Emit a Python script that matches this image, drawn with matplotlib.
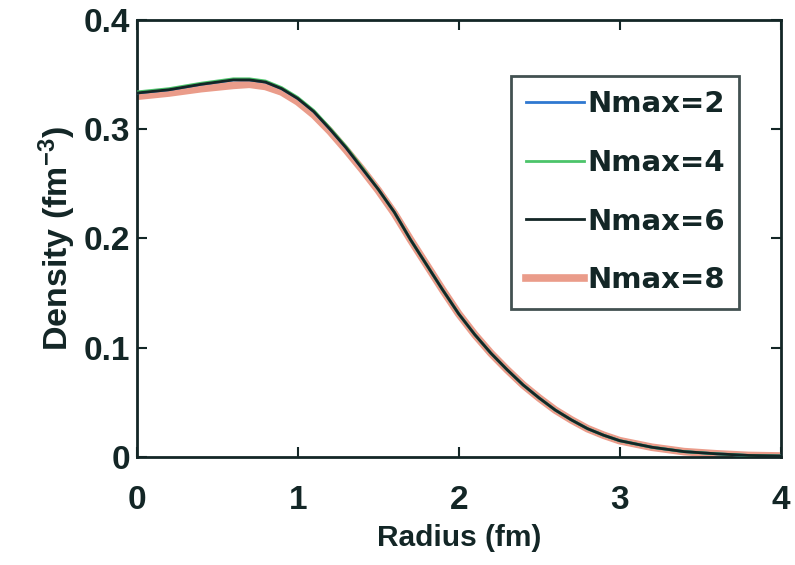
import matplotlib.pyplot as plt

# radius grid (fm) and densities
radius = [0.0, 0.2, 0.4, 0.6, 0.7, 0.8, 0.9, 1.0, 1.1, 1.2, 1.3, 1.4, 1.5, 1.6,
          1.7, 1.8, 1.9, 2.0, 2.1, 2.2, 2.3, 2.4, 2.5, 2.6, 2.7, 2.8, 2.9, 3.0,
          3.2, 3.4, 3.6, 3.8, 4.0]
dens_n2 = [0.333, 0.336, 0.341, 0.345, 0.345, 0.343, 0.337, 0.328, 0.316, 0.300,
           0.283, 0.264, 0.245, 0.224, 0.199, 0.176, 0.153, 0.131, 0.112, 0.095,
           0.080, 0.066, 0.054, 0.043, 0.034, 0.026, 0.020, 0.015, 0.009, 0.005,
           0.003, 0.0015, 0.001]
dens_n4 = [0.334, 0.337, 0.342, 0.346, 0.346, 0.344, 0.338, 0.329, 0.317, 0.301,
           0.284, 0.265, 0.245, 0.224, 0.199, 0.176, 0.153, 0.131, 0.112, 0.095,
           0.080, 0.066, 0.054, 0.043, 0.034, 0.026, 0.020, 0.015, 0.009, 0.005,
           0.003, 0.0015, 0.001]
dens_n6 = [0.333, 0.336, 0.341, 0.345, 0.345, 0.343, 0.337, 0.328, 0.316, 0.300,
           0.283, 0.264, 0.245, 0.224, 0.199, 0.176, 0.153, 0.131, 0.112, 0.095,
           0.080, 0.066, 0.054, 0.043, 0.034, 0.026, 0.020, 0.015, 0.009, 0.005,
           0.003, 0.0015, 0.001]
dens_n8 = [0.330, 0.333, 0.337, 0.340, 0.341, 0.339, 0.334, 0.325, 0.313, 0.298,
           0.281, 0.263, 0.244, 0.223, 0.199, 0.176, 0.153, 0.131, 0.112, 0.095,
           0.080, 0.066, 0.054, 0.043, 0.034, 0.026, 0.020, 0.015, 0.009, 0.005,
           0.003, 0.0015, 0.001]

x_ticks = [0, 1, 2, 3, 4]
y_ticks = [0, 0.1, 0.2, 0.3, 0.4]
y_tick_labels = ["0", "0.1", "0.2", "0.3", "0.4"]

ink = "#132626"
plt.rcParams["font.family"] = ["Liberation Sans", "DejaVu Sans"]
plt.rcParams["font.weight"] = "bold"
plt.rcParams["mathtext.default"] = "regular"

fig = plt.figure(figsize=(7.95, 5.65), dpi=100)
ax = fig.add_axes([0.172, 0.191, 0.81, 0.774])

ax.plot(radius, dens_n8, color="#e8917d", lw=5.5, alpha=0.9, label="Nmax=8", zorder=2)
ax.plot(radius, dens_n2, color="#2f78d0", lw=2, label="Nmax=2", zorder=3)
ax.plot(radius, dens_n4, color="#4cc46a", lw=2, label="Nmax=4", zorder=4)
ax.plot(radius, dens_n6, color=ink, lw=2, label="Nmax=6", zorder=5)

ax.set_xlim(0, 4)
ax.set_ylim(0, 0.4)
ax.set_xticks(x_ticks)
ax.set_xticklabels([str(t) for t in x_ticks])
ax.set_yticks(y_ticks)
ax.set_yticklabels(y_tick_labels)
ax.tick_params(direction="in", length=7, width=1.5, top=True, right=True,
               labelsize=24, colors=ink)
ax.tick_params(axis="x", pad=20)
ax.tick_params(axis="y", pad=5)
for s in ax.spines.values():
    s.set_linewidth(2)
    s.set_color(ink)

ax.set_xlabel("Radius (fm)", fontsize=21.5, fontweight="bold", color=ink, labelpad=6)
ax.set_ylabel("Density (fm$^{-3}$)", fontsize=24.5, fontweight="bold", color=ink, labelpad=4)

handles, labels = ax.get_legend_handles_labels()
order = [1, 2, 3, 0]
leg = ax.legend([handles[i] for i in order], [labels[i] for i in order],
                loc="upper right", bbox_to_anchor=(0.936, 0.872),
                prop={"family": "DejaVu Sans", "weight": "bold", "size": 21},
                frameon=True, fancybox=False, handlelength=2.0, handletextpad=0.1,
                labelspacing=1.05, borderpad=0.5, borderaxespad=0)
leg.get_frame().set_edgecolor(ink)
leg.get_frame().set_linewidth(2)
for t in leg.get_texts():
    t.set_color(ink)

fig.savefig("out.png", dpi=100)
